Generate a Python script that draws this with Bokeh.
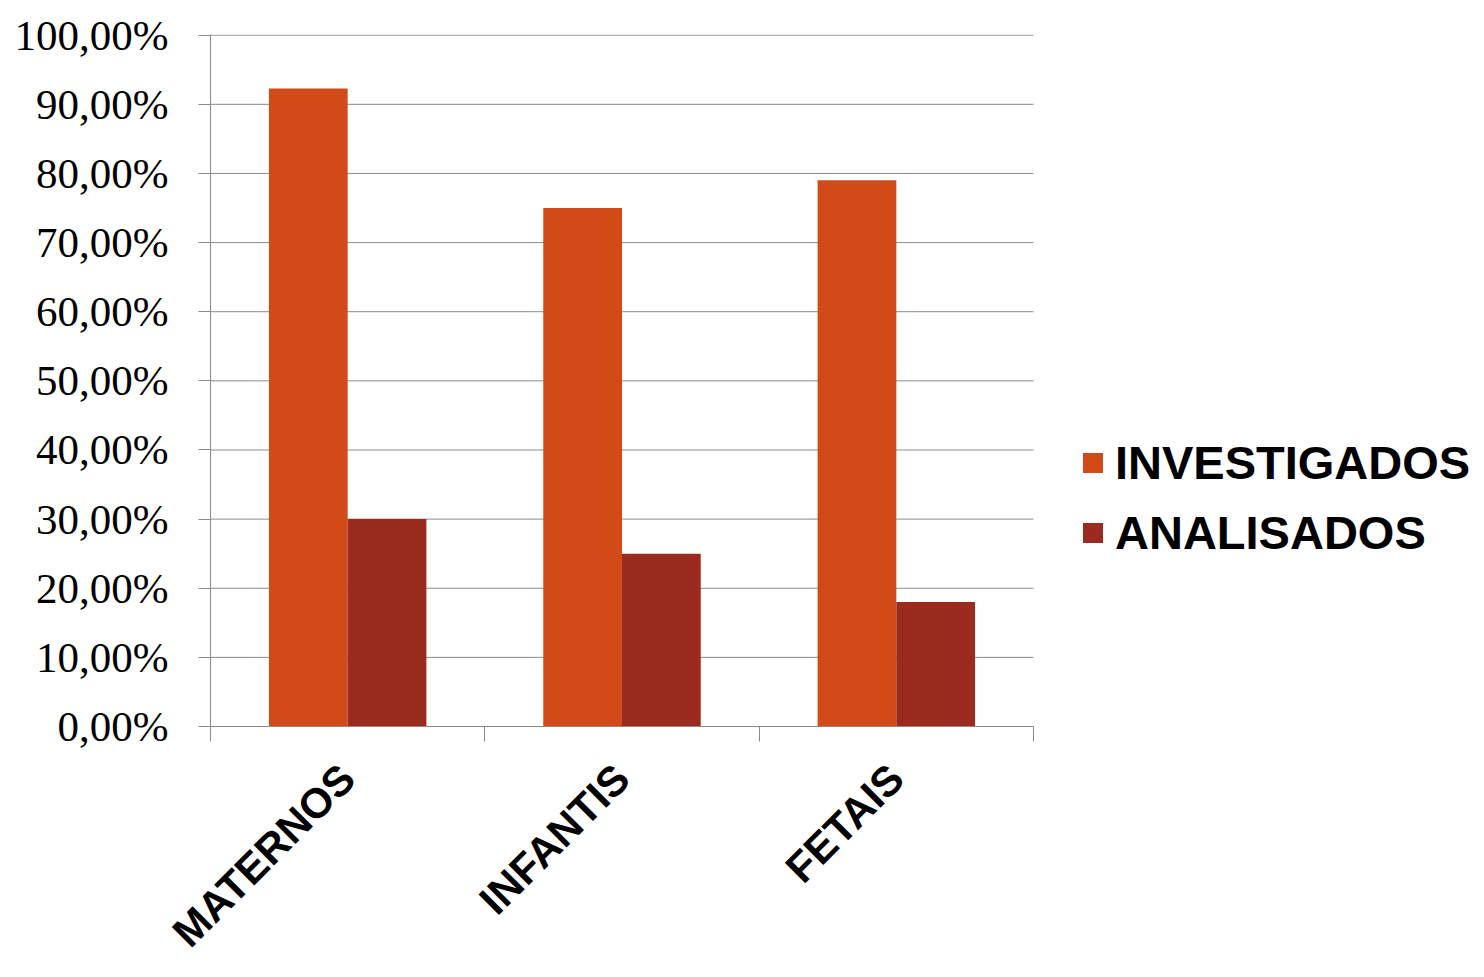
import math
from bokeh.plotting import figure
from bokeh.models import FixedTicker, Legend, LegendItem, ColumnDataSource, Range1d
from bokeh.embed import file_html
from bokeh.resources import INLINE

categories = ["MATERNOS", "INFANTIS", "FETAIS"]
investigados = [92.3, 75.0, 79.0]
analisados = [30.0, 25.0, 18.0]
series_names = ["INVESTIGADOS", "ANALISADOS"]
y_ticks = [0, 10, 20, 30, 40, 50, 60, 70, 80, 90, 100]
y_tick_labels = ["0,00%", "10,00%", "20,00%", "30,00%", "40,00%", "50,00%",
                 "60,00%", "70,00%", "80,00%", "90,00%", "100,00%"]

C_INV = "#D24A17"
C_ANA = "#9B2B1F"
AX = "#8A8A8A"

n = len(categories)
bar_w = 0.287
# frame spans to the right page edge so the legend can sit inside it;
# the category axis itself covers 823 px of the 1274 px frame
x_end = n * 1274 / 823
centers = [i + 0.5 for i in range(n)]
src = ColumnDataSource(dict(
    x_inv=[c - bar_w / 2 for c in centers],
    x_ana=[c + bar_w / 2 for c in centers],
    inv=investigados, ana=analisados))

p = figure(width=1484, height=977, output_backend="svg", toolbar_location=None,
           x_range=Range1d(0, x_end), y_range=Range1d(0, 100.1),
           min_border_left=210, min_border_right=0, min_border_top=34,
           min_border_bottom=251)
p.outline_line_color = None
p.background_fill_color = "white"
p.border_fill_color = "white"

# horizontal gridlines limited to the category area
p.segment(x0=[0] * len(y_ticks), x1=[n] * len(y_ticks), y0=y_ticks, y1=y_ticks,
          line_color=AX, line_width=1)

r1 = p.vbar(x="x_inv", top="inv", width=bar_w, source=src, fill_color=C_INV, line_color=None)
r2 = p.vbar(x="x_ana", top="ana", width=bar_w, source=src, fill_color=C_ANA, line_color=None)

# y axis
p.yaxis.ticker = FixedTicker(ticks=y_ticks)
p.yaxis.major_label_overrides = {t: l for t, l in zip(y_ticks, y_tick_labels)}
p.yaxis.major_label_text_font = "Liberation Serif"
p.yaxis.major_label_text_font_size = "43px"
p.yaxis.major_label_text_color = "black"
p.yaxis.major_label_standoff = 30
p.yaxis.major_tick_in = 0
p.yaxis.major_tick_out = 12
p.yaxis.minor_tick_line_color = None
p.yaxis.axis_line_color = AX
p.yaxis.major_tick_line_color = AX

# x axis
p.xaxis.bounds = (0, n)
p.xaxis.ticker = FixedTicker(ticks=centers, minor_ticks=list(range(n + 1)))
p.xaxis.major_label_overrides = {c: name for c, name in zip(centers, categories)}
p.xaxis.major_label_orientation = math.pi / 4
p.xaxis.major_label_text_font = "Liberation Sans"
p.xaxis.major_label_text_font_style = "bold"
p.xaxis.major_label_text_font_size = "42px"
p.xaxis.major_label_text_color = "black"
p.xaxis.major_label_standoff = 30
p.xaxis.major_tick_line_color = None
p.xaxis.major_tick_out = 0
p.xaxis.major_tick_in = 0
p.xaxis.minor_tick_in = 0
p.xaxis.minor_tick_out = 15
p.xaxis.minor_tick_line_color = AX
p.xaxis.axis_line_color = AX

p.xgrid.grid_line_color = None
p.ygrid.grid_line_color = None

legend = Legend(items=[LegendItem(label=series_names[0], renderers=[r1]),
                       LegendItem(label=series_names[1], renderers=[r2])],
                location=(1080 - 210, 166), orientation="vertical")
legend.label_text_font = "Liberation Sans"
legend.label_text_font_style = "bold"
legend.label_text_font_size = "47px"
legend.label_text_color = "black"
legend.glyph_width = 25
legend.glyph_height = 25
legend.label_standoff = 10
legend.spacing = 15
legend.padding = 0
legend.margin = 0
legend.border_line_color = None
legend.background_fill_alpha = 0
p.add_layout(legend, "center")

open("out.html", "w").write(file_html(p, INLINE))
